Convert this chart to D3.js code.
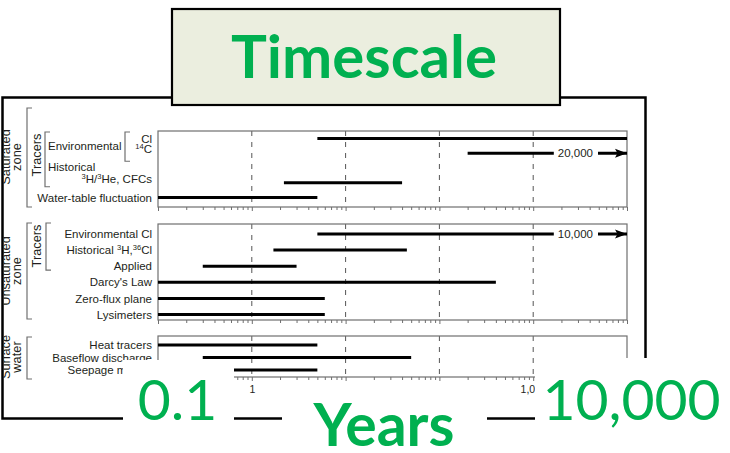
<!DOCTYPE html>
<html>
<head>
<meta charset="utf-8">
<script src="https://cdn.jsdelivr.net/npm/d3@7"></script>
<style>
  body { margin: 0; background: #fff; }
  svg { display: block; }
</style>
</head>
<body>
<script>
// ---- data ---------------------------------------------------------------
const yearDomain = [0.1, 10000];
const tickValues = [0.1, 1, 10, 100, 1000, 10000];
const tickLabels = ["0.1", "1", "10", "100", "1,000", "10,000"];
// decade labels printed in small type under the bottom panel
const smallTickLabels = ["1", "1,000"];

// Saturated zone (null row = spacer line used by the "Historical" heading)
const satRows  = ["Cl", "^14C", null, "^3H/^3He, CFCs", "Water-table fluctuation"];
const satStart = [5, 200, null, 2.2, 0.1];
const satEnd   = [10000, 20000, null, 40, 5];
const satArrow = [false, true, false, false, false];

// Unsaturated zone
const unsatRows  = ["Environmental Cl", "Historical ^3H,^36Cl", "Applied", "Darcy's Law", "Zero-flux plane", "Lysimeters"];
const unsatStart = [5, 1.7, 0.3, 0.1, 0.1, 0.1];
const unsatEnd   = [10000, 45, 3, 400, 6, 6];
const unsatArrow = [true, false, false, false, false, false];

// Surface water
const surfRows  = ["Heat tracers", "Baseflow discharge", "Seepage meters"];
const surfStart = [0.1, 0.3, 0.5];
const surfEnd   = [5, 50, 5];
const surfArrow = [false, false, false];

const titleText = "Timescale";
const axisTitle = "Years";

// ---- layout -------------------------------------------------------------
const W = 730, H = 453;
const green = "#00B050";
const ink = "#231f20";
const frameGray = "#6f6f6f";
const labelFont = "'Liberation Sans', Arial, sans-serif";

const svg = d3.select("body").append("svg")
  .attr("width", W).attr("height", H)
  .attr("viewBox", `0 0 ${W} ${H}`);

const x = d3.scaleLog().domain(yearDomain).range([158, 627]);

const panels = [
  { rows: satRows,   start: satStart,   end: satEnd,   arrow: satArrow,   top: 131, bottom: 207, y0: 138.5, y1: 197.5 },
  { rows: unsatRows, start: unsatStart, end: unsatEnd, arrow: unsatArrow, top: 224, bottom: 320, y0: 234,   y1: 314.5 },
  { rows: surfRows,  start: surfStart,  end: surfEnd,  arrow: surfArrow,  top: 336, bottom: 377, y0: 345,   y1: 370 }
];
panels.forEach(p => {
  p.y = d3.scalePoint().domain(d3.range(p.rows.length)).range([p.y0, p.y1]);
});

const defs = svg.append("defs");
// clip for everything inside the outer frame
defs.append("clipPath").attr("id", "frameClip")
  .append("rect").attr("x", 3.6).attr("y", 98).attr("width", 642).attr("height", 320);

defs.append("marker")
  .attr("id", "arrowHead")
  .attr("viewBox", "0 0 12 10")
  .attr("refX", 12).attr("refY", 5)
  .attr("markerUnits", "userSpaceOnUse")
  .attr("markerWidth", 13).attr("markerHeight", 10)
  .attr("orient", "auto")
  .append("path").attr("d", "M0,0.5 L12,5 L0,9.5 L2.5,5 Z").attr("fill", "#000");

const chart = svg.append("g").attr("clip-path", "url(#frameClip)");

// text with ^NN superscripts
function rich(sel, str) {
  const parts = str.split(/\^(\d+)/);
  let raised = false;
  parts.forEach((p, i) => {
    if (!p) return;
    const ts = sel.append("tspan").text(p);
    if (i % 2 === 1) {
      ts.attr("font-size", "0.66em").attr("dy", raised ? 0 : "-0.5em");
      raised = true;
    } else if (raised) {
      ts.attr("dy", "0.33em");
      raised = false;
    }
  });
}

const minorTicks = [];
for (let e = -1; e < 4; e++) for (let m = 1; m <= 9; m++) minorTicks.push(m * Math.pow(10, e));
minorTicks.push(10000);

panels.forEach((p, pi) => {
  const g = chart.append("g");

  // dashed decade gridlines
  g.selectAll("line.grid").data(tickValues.slice(1, -1)).join("line")
    .attr("x1", d => x(d)).attr("x2", d => x(d))
    .attr("y1", p.top).attr("y2", p.bottom)
    .attr("stroke", "#555").attr("stroke-width", 1)
    .attr("stroke-dasharray", "5,6");

  // panel box
  g.append("rect")
    .attr("x", x(yearDomain[0])).attr("y", p.top)
    .attr("width", x(yearDomain[1]) - x(yearDomain[0]))
    .attr("height", p.bottom - p.top)
    .attr("fill", "none").attr("stroke", frameGray).attr("stroke-width", 1.2);

  // log ticks hanging below the bottom edge
  const ax = d3.axisBottom(x).tickValues(minorTicks)
    .tickSize(3).tickFormat((d) => {
      const i = tickValues.indexOf(d);
      return (pi === 2 && i >= 0 && smallTickLabels.includes(tickLabels[i])) ? tickLabels[i] : "";
    });
  const axG = g.append("g").attr("transform", `translate(0,${p.bottom})`).call(ax);
  axG.select(".domain").remove();
  axG.selectAll(".tick line").attr("stroke", frameGray).attr("stroke-width", 1)
    .attr("y2", d => tickValues.includes(d) ? 4 : 3);
  axG.selectAll(".tick text").attr("font-family", labelFont).attr("font-size", 10.5)
    .attr("fill", ink).attr("y", 9);

  // row labels
  p.rows.forEach((r, i) => {
    if (r === null) return;
    const t = g.append("text")
      .attr("x", 152).attr("y", p.y(i)).attr("dy", "0.36em")
      .attr("text-anchor", "end")
      .attr("font-family", labelFont).attr("font-size", 11.5).attr("fill", ink);
    rich(t, r);
  });

  // range bars
  p.rows.forEach((r, i) => {
    if (r === null) return;
    const s = p.start[i], e = p.end[i];
    const yy = p.y(i);
    const xe = x(Math.min(e, yearDomain[1]));
    if (p.arrow[i]) {
      // range runs on past the axis: value label plus arrow
      const lbl = g.append("text")
        .attr("x", xe - 34).attr("y", yy).attr("dy", "0.36em")
        .attr("text-anchor", "end")
        .attr("font-family", labelFont).attr("font-size", 11.5).attr("fill", ink)
        .text(d3.format(",")(e));
      const w = lbl.node().getComputedTextLength();
      const lx0 = xe - 34 - w;
      g.append("line").attr("x1", x(s)).attr("x2", lx0 - 4)
        .attr("y1", yy).attr("y2", yy).attr("stroke", "#000").attr("stroke-width", 3);
      g.append("line").attr("x1", xe - 29).attr("x2", xe)
        .attr("y1", yy).attr("y2", yy).attr("stroke", "#000").attr("stroke-width", 3)
        .attr("marker-end", "url(#arrowHead)");
    } else {
      g.append("line").attr("x1", x(s)).attr("x2", xe)
        .attr("y1", yy).attr("y2", yy).attr("stroke", "#000").attr("stroke-width", 3);
    }
  });
});

// ---- group brackets and headings ---------------------------------------
function bracket(x0, y0, y1, len) {
  chart.append("path")
    .attr("d", `M${x0 + len},${y0} H${x0} V${y1} H${x0 + len}`)
    .attr("fill", "none").attr("stroke", frameGray).attr("stroke-width", 1.2);
}
function vlabel(lines, cy, size, lineGap, firstBase) {
  lines.forEach((s, i) => {
    chart.append("text")
      .attr("transform", `translate(${firstBase + i * lineGap},${cy}) rotate(-90)`)
      .attr("text-anchor", "middle")
      .attr("font-family", labelFont).attr("font-size", size).attr("fill", ink)
      .text(s);
  });
}
function hlabel(str, xx, yy) {
  const t = chart.append("text").attr("x", xx).attr("y", yy).attr("dy", "0.36em")
    .attr("font-family", labelFont).attr("font-size", 11.5).attr("fill", ink);
  rich(t, str);
}

const [P1, P2, P3] = panels;
// saturated zone
bracket(27, 108, P1.bottom, 5);
vlabel(["Saturated", "zone"], 157, 12.8, 11.5, 9.8);
bracket(45, P1.top + 1, P1.y(3) + 4, 5);
vlabel(["Tracers"], 155, 12.8, 0, 41);
bracket(125, P1.top + 1, P1.y(1) + 8, 5);
hlabel("Environmental", 48, (P1.y(0) + P1.y(1)) / 2);
hlabel("Historical", 48, P1.y(2) - 1);

// unsaturated zone
bracket(27, P2.top - 1, P2.bottom - 1, 5);
vlabel(["Unsaturated", "zone"], 271, 12.8, 11.5, 9.8);
bracket(46, P2.top - 1, P2.y(2) + 4, 5);
vlabel(["Tracers"], 246, 12.8, 0, 41);

// surface water
bracket(27, P3.top + 1, P3.bottom + 2, 5);
vlabel(["Surface", "water"], 357, 12.8, 11.5, 9.8);

// ---- outer frame and overlaid headings --------------------------------
svg.append("rect").attr("x", 2.5).attr("y", 97.5).attr("width", 643).attr("height", 321)
  .attr("fill", "none").attr("stroke", "#000").attr("stroke-width", 2.5);

// title plate
svg.append("rect").attr("x", 172).attr("y", 9).attr("width", 388).attr("height", 96)
  .attr("fill", "#EBEEDF").attr("stroke", "#000").attr("stroke-width", 2.2);
svg.append("text").attr("x", 364).attr("y", 78).attr("text-anchor", "middle")
  .attr("font-family", "Lato, 'Open Sans', sans-serif").attr("font-weight", 700)
  .attr("font-size", 60).attr("fill", green).text(titleText);

// axis end values and axis title on white plates
const endPlates = [
  { label: tickLabels[0], x0: 123, x1: 234, y0: 360, cx: 177.5 },
  { label: tickLabels[tickLabels.length - 1], x0: 535, x1: 730, y0: 358, cx: 631.5 }
];
endPlates.forEach(d => {
  svg.append("rect").attr("x", d.x0).attr("y", d.y0).attr("width", d.x1 - d.x0).attr("height", H - d.y0)
    .attr("fill", "#fff");
  svg.append("text").attr("x", d.cx).attr("y", 420).attr("text-anchor", "middle")
    .attr("font-family", "Lato, 'Open Sans', sans-serif").attr("font-weight", 400)
    .attr("font-size", 57).attr("fill", green).text(d.label);
});
svg.append("rect").attr("x", 282).attr("y", 381).attr("width", 205).attr("height", H - 381)
  .attr("fill", "#fff");
svg.append("text").attr("x", 384).attr("y", 446).attr("text-anchor", "middle")
  .attr("font-family", "Lato, 'Open Sans', sans-serif").attr("font-weight", 700)
  .attr("font-size", 59).attr("fill", green).text(axisTitle);
</script>
</body>
</html>
